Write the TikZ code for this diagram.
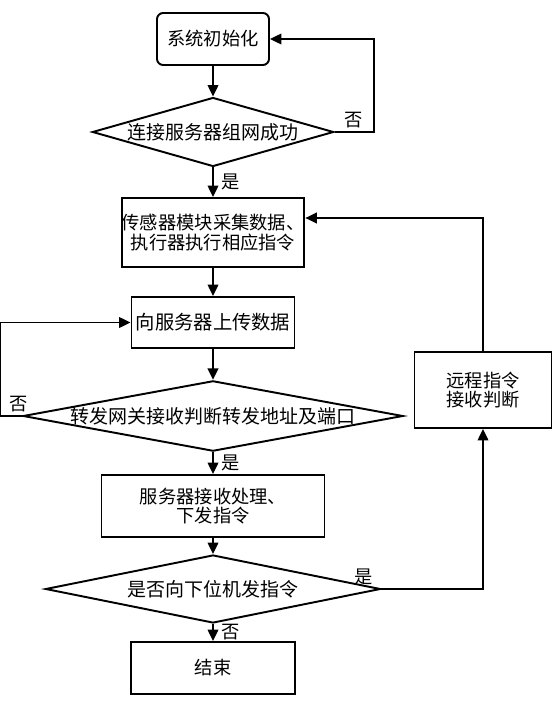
\documentclass[tikz,border=0pt]{standalone}
\usepackage{fontspec}
\setmainfont{Noto Sans CJK SC}
\usepackage{tikz}
\usetikzlibrary{shapes.geometric,arrows.meta,positioning}

\tikzset{
  process/.style={draw,rectangle,inner sep=0pt,align=center,
    font=\fontsize{10.4}{11.2}\selectfont},
  startbox/.style={process,rounded corners=3.5pt},
  decision/.style={draw,diamond,inner sep=0pt,aspect=4,
    font=\fontsize{10.8}{12}\selectfont},
  answer/.style={inner sep=1.5pt,font=\fontsize{10.4}{12}\selectfont}
}

\begin{document}
\begin{tikzpicture}[node distance=1.8cm,on grid,auto,line width=1.1pt,
    >={Triangle[length=6.5pt,width=6pt]}]
   \useasboundingbox (0,0) rectangle (11.14,-14.06);
   \node[startbox,minimum width=2.24cm,minimum height=1.04cm] (init) at (4.26,-0.78) {系统初始化};
   \node[decision,minimum width=4.76cm,minimum height=1.38cm] (conn) [below=1.86cm of init] {连接服务器组网成功};
   \node[process,minimum width=3.64cm,minimum height=1.38cm] (collect) [below=2.01cm of conn] {传感器模块采集数据、\\执行器执行相应指令};
   \node[process,minimum width=3.26cm,minimum height=1.02cm,font=\fontsize{11}{12}\selectfont] (upload) [below=of collect] {向服务器上传数据};
   \node[decision,minimum width=7.38cm,minimum height=1.36cm,aspect=5.4] (gateway) [below=1.87cm of upload] {转发网关接收判断转发地址及端口};
   \node[process,minimum width=4.46cm,minimum height=1.24cm] (server) [below=of gateway] {服务器接收处理、\\下发指令};
   \node[decision,minimum width=6.7cm,minimum height=1.36cm,aspect=4.9] (send) [below=1.66cm of server] {是否向下位机发指令};
   \node[process,minimum width=3.28cm,minimum height=1.04cm] (end) [below=1.58cm of send] {结束};
   \node[process,minimum width=2.74cm,minimum height=1.52cm] (remote) [right=5.4cm of gateway,yshift=0.52cm] {远程指令\\接收判断};

    \path[->]
    (init) edge (conn)
    (conn) edge node[answer,xshift=0.1cm] (yes1) {是} (collect)
    (collect) edge (upload)
    (upload) edge (gateway)
    (gateway) edge node[answer,xshift=0.1cm] (yes2) {是} (server)
    (server) edge (send)
    (send) edge node[answer,xshift=0.1cm] (no3) {否} (end);

    \draw[->] (conn.east) -- node[answer,above] (no1) {否} ++(0.78,0) |- (init.east);
    \draw[->] (gateway.west) -- node[answer,above,pos=0.15] (no2) {否} ++(-0.44,0) |- (upload.west);
    \draw[->] (send.east) node[answer,above left,xshift=-0.1cm] (yes3) {是} -| (remote.south);
    \draw[->] (remote.north) |- ([yshift=0.29cm]collect.east);
\end{tikzpicture}
\end{document}
